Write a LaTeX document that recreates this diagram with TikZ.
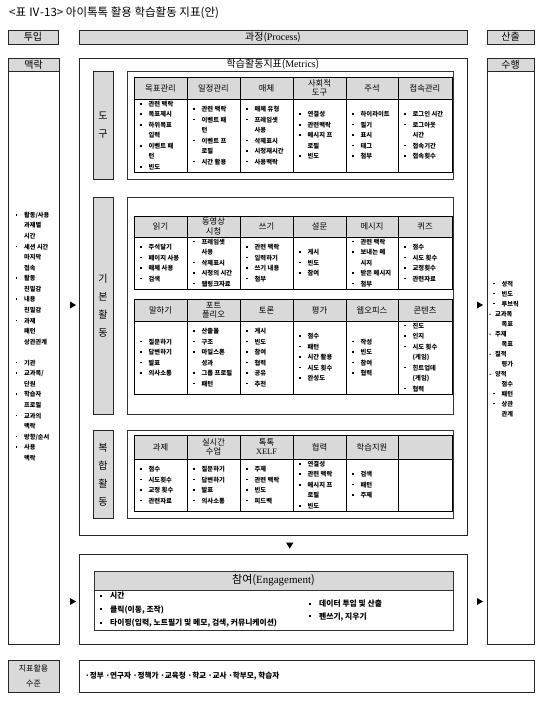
\documentclass[tikz,border=0pt]{standalone}
\usepackage{fontspec}
\setmainfont{Noto Sans CJK KR}
\newfontfamily\latf{Liberation Serif}
\newcommand{\kbulx}[1]{\makebox[#1][l]{\rule[0.3em]{1.6pt}{1.6pt}}}
\newcommand{\kbul}{\kbulx{8.5pt}}
\newcommand{\kcont}{\hspace*{8.5pt}}
\definecolor{hdr}{gray}{0.85}
\newcommand{\ktab}[3]{%
  \fill[hdr] (134,#1) rectangle (452,#2);
  \draw[tbl] (134,#1) rectangle (452,#3);
  \draw[tbl] (134,#2) -- (452,#2);
  \foreach \xx in {187,240,293,346,398} \draw[tbl] (\xx,#1) -- (\xx,#3);
}
\begin{document}
\begin{tikzpicture}[x=1pt,y=-1pt,
  frame/.style={draw=black!85,line width=0.9pt},
  greybox/.style={frame,fill=hdr},
  panel/.style={draw=black!80,line width=0.8pt},
  tbl/.style={draw=black,line width=0.8pt},
  hd/.style={font=\fontsize{8.3}{9.3}\selectfont,align=center,inner sep=0pt},
  bd/.style={font=\fontsize{6.3}{10.5}\selectfont\bfseries,align=left,inner sep=0pt,anchor=west},
  vlab/.style={font=\fontsize{10}{18}\selectfont,align=center,inner sep=0pt},
  big/.style={font=\fontsize{10}{12}\selectfont,inner sep=0pt},
  eb/.style={font=\fontsize{7.8}{9}\selectfont\bfseries,inner sep=0pt,anchor=west},
  tri/.style={fill=black}
]
\useasboundingbox (0,0) rectangle (546,702);

% title
\node[font=\fontsize{11.5}{13}\selectfont,anchor=west,inner sep=0pt] (title) at (9,13) {<표 Ⅳ-13> 아이톡톡 활용 학습활동 지표(안)};

% top headers
\draw[greybox] (8,30) rectangle (58,44);
\node[big] (tuip) at (33,37) {투입};
\draw[greybox] (79,30) rectangle (467,44);
\node[big] (process) at (273,37) {과정({\latf Process})};
\draw[greybox] (487,30) rectangle (534,44);
\node[big] (sanchul) at (510.5,37) {산출};

% left column
\draw[greybox] (8,58) rectangle (59,71);
\node[big] (maek) at (33.5,64.5) {맥락};
\draw[frame] (8,71) rectangle (59,644);
\node[font=\fontsize{6.2}{10.56}\selectfont\bfseries,align=left,inner sep=0pt,anchor=west] (leftlist) at (15.5,336.5)
 {\kbul 활동/사용\\\kcont 과제별\\\kcont 시간\\\kbul 세션 시간\\\kcont 마지막\\\kcont 접속\\\kbul 활동\\\kcont 친밀감\\\kbul 내용\\\kcont 친밀감\\\kbul 과제\\\kcont 패턴\\\kcont 상관관계\\[10.56pt]\kbul 기관\\\kbul 교과목/\\\kcont 단원\\\kbul 학습자\\\kcont 프로필\\\kbul 교과의\\\kcont 맥락\\\kbul 방향/순서\\\kbul 사용\\\kcont 맥락};

% right column
\draw[greybox] (487,58) rectangle (534,71);
\node[big] (suhaeng) at (510.5,64.5) {수행};
\draw[frame] (487,71) rectangle (534,644);
\node[font=\fontsize{6.2}{10}\selectfont\bfseries,align=left,inner sep=0pt,anchor=west] (rightlist) at (489,349)
 {\hspace*{4pt}\kbul 성적\\\hspace*{4pt}\kbul 빈도\\\hspace*{4pt}\kbul 루브릭\\\makebox[6pt][l]{-}교과목\\\hspace*{12.5pt}목표\\\makebox[6pt][l]{-}주제\\\hspace*{12.5pt}목표\\\makebox[6pt][l]{-}질적\\\hspace*{12.5pt}평가\\\makebox[6pt][l]{-}양적\\\hspace*{12.5pt}점수\\\hspace*{4pt}\kbul 패턴\\\hspace*{4pt}\kbul 상관\\\hspace*{12.5pt}관계};

% metrics box
\draw[frame] (79,58) rectangle (467,535);
\node[big] (metrics) at (273,64.5) {학습활동지표({\latf Metrics})};

% ---- tool section
\draw[greybox] (93,71) rectangle (113,179);
\node[vlab] (dogu) at (103,125) {도\\구};
\draw[panel] (127,71) rectangle (453,179);
\ktab{77}{99}{172}
\node[hd] (t1h) at (160.5,88) {목표관리};
\node[hd] (t2h) at (213.5,88) {일정관리};
\node[hd] (t3h) at (266.5,88) {매체};
\node[hd] (t4h) at (319.5,88) {사회적\\도구};
\node[hd] (t5h) at (372,88) {주석};
\node[hd] (t6h) at (425,88) {접속관리};
\node[bd] (t1b) at (140,135.5) {\kbul 관련 맥락\\\kbul 목표제시\\\kbul 하위목표\\\kcont 입력\\\kbul 이벤트 패\\\kcont 턴\\\kbul 빈도};
\node[bd] (t2b) at (193,135.5) {\kbul 관련 맥락\\\kbul 이벤트 패\\\kcont 턴\\\kbul 이벤트 프\\\kcont 로필\\\kbul 시간 활용};
\node[bd] (t3b) at (246,135.5) {\kbul 매체 유형\\\kbul 프레임셋\\\kcont 사용\\\kbul 삭제표시\\\kbul 시청재시간\\\kbul 사용맥락};
\node[bd] (t4b) at (299,135.5) {\kbul 연결성\\\kbul 관련맥락\\\kbul 메시지 프\\\kcont 로필\\\kbul 빈도};
\node[bd] (t5b) at (352,135.5) {\kbul 하이라이트\\\kbul 필기\\\kbul 표시\\\kbul 태그\\\kbul 첨부};
\node[bd] (t6b) at (404,135.5) {\kbul 로그인 시간\\\kbul 로그아웃\\\kcont 시간\\\kbul 접속기간\\\kbul 접속횟수};

% ---- basic activities
\draw[greybox] (93,197) rectangle (113,414);
\node[vlab] (gibon) at (103,305.5) {기\\본\\활\\동};
\draw[panel] (127,197) rectangle (453,414);
\ktab{216}{237}{289}
\node[hd] (b1h) at (160.5,226.5) {읽기};
\node[hd] (b2h) at (213.5,226.5) {동영상\\시청};
\node[hd] (b3h) at (266.5,226.5) {쓰기};
\node[hd] (b4h) at (319.5,226.5) {설문};
\node[hd] (b5h) at (372,226.5) {메시지};
\node[hd] (b6h) at (425,226.5) {퀴즈};
\node[bd] (b1b) at (140,263) {\kbul 주석달기\\\kbul 페이지 사용\\\kbul 매체 사용\\\kbul 검색};
\node[bd] (b2b) at (193,263) {\kbul 프레임셋\\\kcont 사용\\\kbul 삭제표시\\\kbul 시청의 시간\\\kbul 웹링크자료};
\node[bd] (b3b) at (246,263) {\kbul 관련 맥락\\\kbul 입력하기\\\kbul 쓰기 내용\\\kbul 첨부};
\node[bd] (b4b) at (299,263) {\kbul 게시\\\kbul 빈도\\\kbul 참여};
\node[bd] (b5b) at (352,263) {\kbul 관련 맥락\\\kbul 보내는 메\\\kcont 시지\\\kbul 받은 메시지\\\kbul 첨부};
\node[bd] (b6b) at (404,263) {\kbul 점수\\\kbul 시도 횟수\\\kbul 교정횟수\\\kbul 관련자료};

\ktab{299}{321}{394}
\node[hd] (c1h) at (160.5,310) {말하기};
\node[hd] (c2h) at (213.5,310) {포트\\폴리오};
\node[hd] (c3h) at (266.5,310) {토론};
\node[hd] (c4h) at (319.5,310) {평가};
\node[hd] (c5h) at (372,310) {웹오피스};
\node[hd] (c6h) at (425,310) {콘텐츠};
\node[bd] (c1b) at (140,357.5) {\kbul 질문하기\\\kbul 답변하기\\\kbul 발표\\\kbul 의사소통};
\node[bd] (c2b) at (193,357.5) {\kbul 산출물\\\kbul 구조\\\kbul 마일스톤\\\kcont 성과\\\kbul 그룹 프로필\\\kbul 패턴};
\node[bd] (c3b) at (246,357.5) {\kbul 게시\\\kbul 빈도\\\kbul 참여\\\kbul 협력\\\kbul 공유\\\kbul 추천};
\node[bd] (c4b) at (299,357.5) {\kbul 점수\\\kbul 패턴\\\kbul 시간 활용\\\kbul 시도 횟수\\\kbul 완성도};
\node[bd] (c5b) at (352,357.5) {\kbul 작성\\\kbul 빈도\\\kbul 참여\\\kbul 협력};
\node[bd] (c6b) at (404,357.5) {\kbul 진도\\\kbul 인지\\\kbul 시도 횟수\\\kcont (게임)\\\kbul 힌트업데\\\kcont (게임)\\\kbul 협력};

% ---- complex activities
\draw[greybox] (93,430) rectangle (113,518);
\node[vlab] (bokhap) at (103,475) {복\\합\\활\\동};
\draw[panel] (127,430) rectangle (453,518);
\ktab{435}{459}{511}
\node[hd] (d1h) at (160.5,447) {과제};
\node[hd] (d2h) at (213.5,447) {실시간\\수업};
\node[hd] (d3h) at (266.5,447) {톡톡\\{\latf XELF}};
\node[hd] (d4h) at (319.5,447) {협력};
\node[hd] (d5h) at (372,447) {학습지원};
\node[bd] (d1b) at (140,485) {\kbul 점수\\\kbul 시도횟수\\\kbul 교정 횟수\\\kbul 관련자료};
\node[bd] (d2b) at (193,485) {\kbul 질문하기\\\kbul 답변하기\\\kbul 발표\\\kbul 의사소통};
\node[bd] (d3b) at (246,485) {\kbul 주제\\\kbul 관련 맥락\\\kbul 빈도\\\kbul 피드백};
\node[bd] (d4b) at (299,485) {\kbul 연결성\\\kbul 관련 맥락\\\kbul 메시지 프\\\kcont 로필\\\kbul 빈도};
\node[bd] (d5b) at (352,485) {\kbul 검색\\\kbul 패턴\\\kbul 주제};

% arrows
\fill[tri] (70,301.5) -- (70,308.5) -- (76,305) -- cycle;
\fill[tri] (477,301.5) -- (477,308.5) -- (483,305) -- cycle;
\fill[tri] (286,542.5) -- (293.5,542.5) -- (289.75,548.5) -- cycle;
\fill[tri] (70,598) -- (70,605) -- (76,601.5) -- cycle;
\fill[tri] (477,598) -- (477,605) -- (483,601.5) -- cycle;

% engagement
\draw[frame] (79,554) rectangle (467,644);
\fill[hdr] (94,571) rectangle (453,590);
\draw[panel] (94,571) rectangle (453,630);
\draw[panel] (94,590) -- (453,590);
\node[font=\fontsize{11}{13}\selectfont,inner sep=0pt] (engage) at (273.5,580.5) {참여({\latf Engagement})};
\node[eb] (e1) at (100,596) {\kbulx{10pt}시간};
\node[eb] (e2) at (100,610) {\kbulx{10pt}클릭(이동, 조작)};
\node[eb] (e3) at (100,623.5) {\kbulx{10pt}타이핑(입력, 노트필기 및 메모, 검색, 커뮤니케이션)};
\node[eb] (e4) at (309,604) {\kbulx{10pt}데이터 투입 및 산출};
\node[eb] (e5) at (309,617) {\kbulx{10pt}펜쓰기, 지우기};

% bottom row
\draw[greybox] (8,660) rectangle (59,692);
\node[font=\fontsize{8}{14.5}\selectfont,align=center,inner sep=0pt] (level) at (33.5,676) {지표활용\\수준};
\draw[frame] (79,660) rectangle (534,692);
\node[font=\fontsize{7.6}{9}\selectfont\bfseries,anchor=west,inner sep=0pt] (users) at (85,676) {·정부 ·연구자 ·정책가 ·교육청 ·학교 ·교사 ·학부모, 학습자};
\end{tikzpicture}
\end{document}
